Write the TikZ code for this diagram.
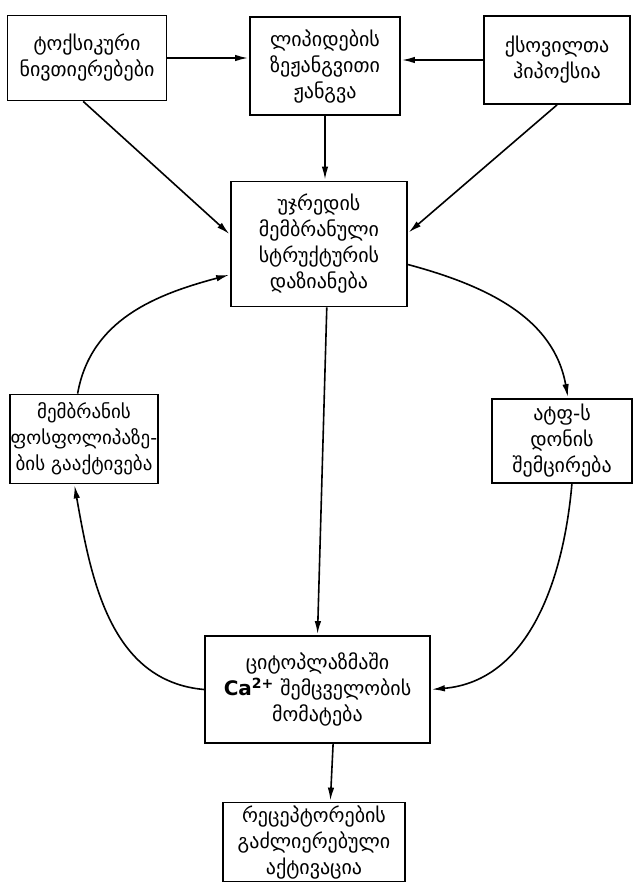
\documentclass[tikz,border=0pt]{standalone}
\usepackage{fontspec}
\setmainfont{DejaVu Sans}
\usetikzlibrary{arrows.meta}
\begin{document}
\begin{tikzpicture}[x=1pt,y=1pt,
  box/.style={draw,line width=1.8pt,align=center,inner sep=0pt,
    font=\fontsize{20}{26}\selectfont},
  link/.style={line width=1.6pt,-{Latex[length=13pt,width=6.5pt]},shorten >=1pt}]
\useasboundingbox (0,0) rectangle (638,-894);
% boxes
\node[box,minimum width=159,minimum height=85] (A) at (87,-58) {ტოქსიკური\\ნივთიერებები};
\node[box,minimum width=150,minimum height=98] (B) at (325,-66) {ლიპიდების\\ზეჟანგვითი\\ჟანგვა};
\node[box,minimum width=146,minimum height=88] (C) at (557,-60) {ქსოვილთა\\ჰიპოქსია};
\node[box,minimum width=176,minimum height=125] (D) at (319,-244) {უჯრედის\\მემბრანული\\სტრუქტურის\\დაზიანება};
\node[box,minimum width=148,minimum height=89,font=\fontsize{19}{26}\selectfont] (E) at (84,-439) {მემბრანის\\ფოსფოლიპაზე-\\ბის გააქტივება};
\node[box,minimum width=140,minimum height=84] (F) at (562,-441) {ატფ-ს\\დონის\\შემცირება};
\node[box,minimum width=225,minimum height=107] (G) at (317.5,-689.5) {ციტოპლაზმაში\\\textbf{Ca}\textsuperscript{\textbf{2+}} შემცველობის\\მომატება};
\node[box,minimum width=182,minimum height=79] (H) at (314,-842) {რეცეპტორების\\გაძლიერებული\\აქტივაცია};
% straight connectors
\draw[link] (A.east) -- (A.east -| B.west);
\draw[link] (C.west) -- (C.west -| B.east);
\draw[link] (B.south) -- (B.south |- D.north);
\draw[link] (A.-95) -- (D.174);
\draw[link] (C.-90) -- (D.7);
\draw[link] (D.-83) -- (G.north);
\draw[link] (G.-74) -- (H.68);
% the cycle
\draw[link] (D.-13) to[out=-15,in=100] (F.82);
\draw[link] (F.-77) to[out=-95,in=5] (G.east);
\draw[link] (G.west) to[out=175,in=-80] (E.-102);
\draw[link] (E.98) to[out=80,in=195] (D.-161);
\end{tikzpicture}
\end{document}
